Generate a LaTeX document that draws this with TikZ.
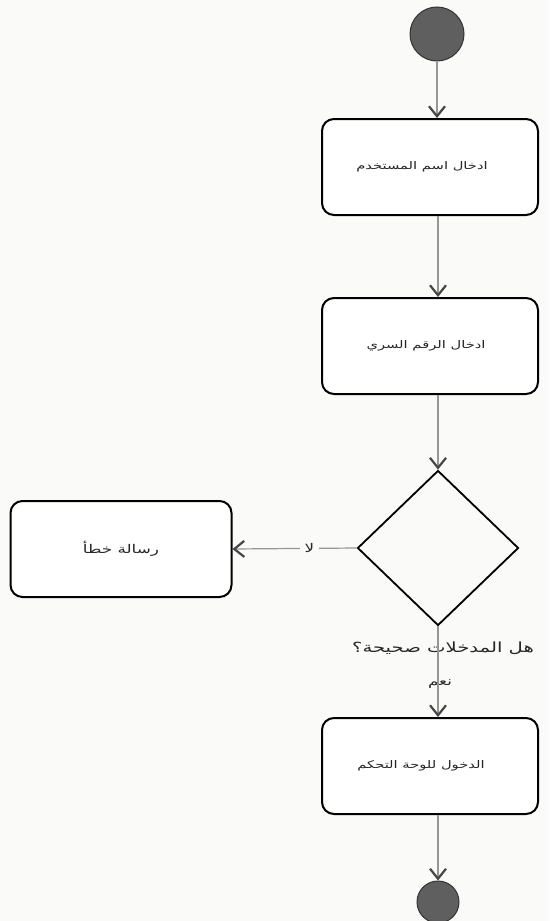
\documentclass[tikz,border=0pt]{standalone}
\usepackage{fontspec}
\newfontfamily\arabicfont[Script=Arabic,FakeStretch=1.4]{DejaVu Sans}
\TeXXeTstate=1
\usetikzlibrary{shapes.geometric,arrows.meta}
\definecolor{paper}{RGB}{250,250,249}
\definecolor{flow}{RGB}{150,150,150}
\definecolor{tip}{RGB}{70,70,70}
\definecolor{dot}{RGB}{95,95,95}
\begin{document}
\begin{tikzpicture}[x=1pt,y=-1pt,
  actbox/.style={draw=black, line width=2pt, rounded corners=12pt,
    minimum width=216pt, minimum height=96pt, fill=white,
    font=\arabicfont\fontsize{10.5}{12}\selectfont, text=black!85},
  choice/.style={draw=black, line width=1.8pt, diamond,
    minimum width=161pt, minimum height=155pt, inner sep=0pt},
  terminal/.style={circle, draw=black!80, line width=1pt, fill=dot, inner sep=0pt},
  flowline/.style={draw=flow, line width=1.2pt,
    -{Straight Barb[length=10pt,width=16pt,line width=2.2pt,color=tip]}},
  caption/.style={font=\arabicfont\fontsize{12}{14}\selectfont, text=black!85}
]
\fill[paper] (0,0) rectangle (549,921);
\useasboundingbox (0,0) rectangle (549,921);

\node[terminal, minimum size=54pt] (start) at (437,34) {};
\node[actbox] (s1) at (430,167) {\hspace*{-16pt}\beginR ادخال اسم المستخدم\endR};
\node[actbox] (s2) at (430,346) {\hspace*{-8pt}\beginR ادخال الرقم السري\endR};
\node[choice] (dec) at (438,548) {};
\node[actbox, minimum width=221pt, font=\arabicfont\fontsize{12}{14}\selectfont] (err) at (121,549) {\beginR رسالة خطأ\endR};
\node[actbox] (s3) at (430,766) {\hspace*{-18pt}\beginR الدخول للوحة التحكم\endR};
\node[terminal, minimum size=42pt] (fin) at (438,902) {};

\node[caption, font=\arabicfont\fontsize{14}{16}\selectfont] (q) at (443,648) {\beginR هل المدخلات صحيحة؟\endR};
\node[caption] (yes) at (440,684) {\beginR نعم\endR};

\draw[flowline] (start) -- (start |- s1.north);
\draw[flowline] (s1.south -| dec) -- (s2.north -| dec);
\draw[flowline] (s2.south -| dec) -- (dec.north);
\draw[flowline] (dec.west) -- node[pos=0.38, fill=paper, inner sep=5pt,
  caption] (no) {\beginR لا\endR} (err.east);
\draw[flowline] (dec.south) -- (s3.north -| dec);
\draw[flowline] (s3.south -| dec) -- (fin.north);
\end{tikzpicture}
\end{document}
